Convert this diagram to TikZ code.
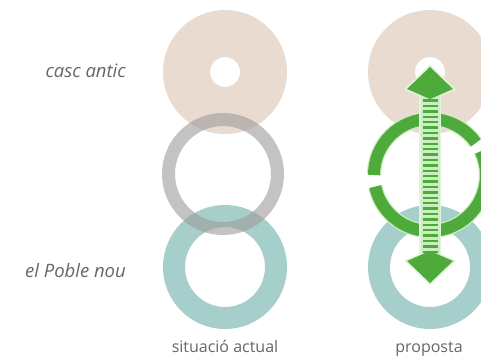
\documentclass[tikz,border=0pt]{standalone}
\usepackage{fontspec}
\setmainfont{Open Sans}
\usepackage{tikz}
\usetikzlibrary{arrows.meta, positioning}
\definecolor{cascrosa}{HTML}{EADBD1}
\definecolor{pobleteal}{HTML}{A6CFCB}
\definecolor{actualgris}{HTML}{9E9A9C}
\definecolor{verd}{HTML}{4DAA3B}
\definecolor{verdclar}{HTML}{CBEEC0}
\definecolor{textgris}{HTML}{666666}
\tikzset{
  casc/.style={fill=cascrosa, even odd rule},
  poble/.style={draw=pobleteal, line width=22pt},
  nexe/.style={draw=actualgris, line width=13pt, draw opacity=0.6},
  anell/.style={draw=verd, line width=12pt},
  anellglow/.style={draw=verdclar, line width=14.5pt},
  fletxa/.style={draw=verdclar, line width=19pt,
    {Kite[length=32pt, width=46pt, inset=10pt, color=verd, line width=0pt]}-{Kite[length=32pt, width=46pt, inset=10pt, color=verd, line width=0pt]}},
  fletxaglow/.style={draw=verdclar!60!white, line width=22pt, shorten <=-2.5pt, shorten >=-2.5pt,
    {Kite[length=36pt, width=52pt, inset=11pt, color=verdclar!60!white, line width=0pt]}-{Kite[length=36pt, width=52pt, inset=11pt, color=verdclar!60!white, line width=0pt]}},
  ratlles/.style={draw=verd, line width=15pt, dash pattern=on 2.4pt off 3pt, shorten <=30pt, shorten >=30pt},
  rotul/.style={text=textgris, font=\fontsize{18.5}{20}\selectfont\itshape, inner sep=0pt, anchor=base east},
  peu/.style={text=textgris, font=\fontsize{16}{18}\selectfont, inner sep=0pt, anchor=base},
}
\begin{document}
\begin{tikzpicture}[x=1pt, y=-1pt]
  \useasboundingbox (0,0) rectangle (481,356);

  % centres
  \coordinate (cascA) at (225,72);
  \coordinate (nexeA) at (223,174);
  \coordinate (pobleA) at (225,267);
  \coordinate (cascB) at (430,72);
  \coordinate (nexeB) at (430,175);
  \coordinate (pobleB) at (430,267);
  \coordinate (fletxaT) at (430,67);
  \coordinate (fletxaB) at (430,283);

  % situacio actual
  \fill[casc] (cascA) circle[radius=62] (cascA) circle[radius=15];
  \draw[poble] (pobleA) circle[radius=51];
  \draw[nexe] (nexeA) circle[radius=54.5];

  % proposta
  \fill[casc] (cascB) circle[radius=62] (cascB) circle[radius=15];
  \draw[poble] (pobleB) circle[radius=51];
  \draw[anellglow] (nexeB) ++(-25:56) arc[start angle=-25, end angle=168, radius=56];
  \draw[anellglow] (nexeB) ++(180:56) arc[start angle=180, end angle=325, radius=56];
  \draw[anell] (nexeB) ++(-25:56) arc[start angle=-25, end angle=168, radius=56];
  \draw[anell] (nexeB) ++(180:56) arc[start angle=180, end angle=325, radius=56];
  \draw[fletxaglow] (fletxaB) -- (fletxaT);
  \draw[fletxa] (fletxaB) -- (fletxaT);
  \draw[ratlles] (fletxaB) -- (fletxaT);

  % textos
  \node (lcasc) [rotul] at (126,77) {casc antic};
  \node (lpoble) [rotul] at (126,277) {el Poble nou};
  \node (lactual) [peu] at (225,352) {situació actual};
  \node (lproposta) [peu] at (429,352) {proposta};

\end{tikzpicture}
\end{document}
